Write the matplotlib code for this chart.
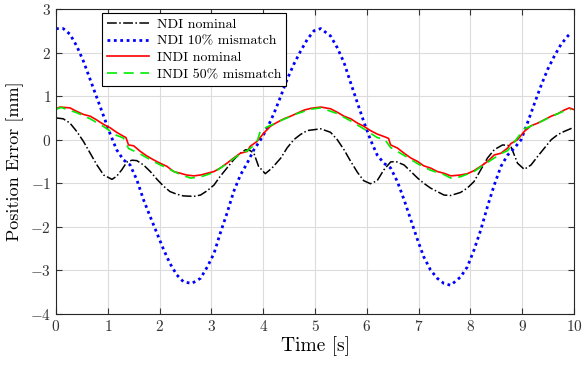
import matplotlib
matplotlib.use("Agg")
import matplotlib.pyplot as plt

t_ndi = [0, 0.14, 0.27, 0.4, 0.53, 0.66, 0.79, 0.92, 1.08, 1.17, 1.27, 1.37, 1.47, 1.56,
         1.69, 1.82, 1.95, 2.08, 2.2, 2.33, 2.46, 2.66, 2.79, 2.92, 3.05, 3.17, 3.3, 3.43,
         3.56, 3.66, 3.75, 3.82, 3.91, 4.04, 4.17, 4.34, 4.46, 4.59, 4.72, 4.85, 4.98, 5.11,
         5.3, 5.43, 5.56, 5.69, 5.82, 5.94, 6.07, 6.2, 6.33, 6.46, 6.56, 6.72, 6.85, 6.98,
         7.1, 7.23, 7.36, 7.49, 7.62, 7.81, 7.94, 8.07, 8.2, 8.33, 8.46, 8.62, 8.72, 8.78,
         8.91, 9.04, 9.17, 9.3, 9.43, 9.56, 9.69, 9.81, 9.97]
e_ndi = [0.5, 0.48, 0.38, 0.19, -0.04, -0.31, -0.58, -0.81, -0.91, -0.84, -0.69, -0.51,
         -0.47, -0.48, -0.58, -0.73, -0.91, -1.07, -1.19, -1.25, -1.29, -1.3, -1.27, -1.17,
         -1.04, -0.84, -0.65, -0.46, -0.31, -0.23, -0.25, -0.31, -0.61, -0.78, -0.65, -0.42,
         -0.19, 0.0, 0.12, 0.21, 0.23, 0.25, 0.17, 0.0, -0.23, -0.5, -0.75, -0.94, -1.01,
         -0.94, -0.69, -0.51, -0.5, -0.58, -0.73, -0.88, -1.0, -1.11, -1.19, -1.27, -1.28,
         -1.21, -1.11, -0.96, -0.69, -0.42, -0.23, -0.12, -0.13, -0.15, -0.54, -0.68, -0.58,
         -0.38, -0.19, 0.0, 0.12, 0.19, 0.27]

t_ndi10 = [0, 0.14, 0.27, 0.4, 0.53, 0.66, 0.79, 0.92, 1.05, 1.17, 1.3, 1.43, 1.56, 1.69,
           1.82, 1.95, 2.08, 2.2, 2.33, 2.46, 2.62, 2.79, 2.92, 3.05, 3.17, 3.3, 3.43, 3.56,
           3.69, 3.82, 3.95, 4.08, 4.21, 4.34, 4.46, 4.59, 4.72, 4.85, 4.98, 5.11, 5.3, 5.43,
           5.56, 5.69, 5.82, 5.94, 6.07, 6.2, 6.33, 6.46, 6.59, 6.72, 6.85, 6.98, 7.1, 7.23,
           7.36, 7.49, 7.62, 7.81, 7.94, 8.07, 8.2, 8.33, 8.46, 8.59, 8.72, 8.85, 8.98, 9.1,
           9.23, 9.36, 9.49, 9.62, 9.75, 9.88, 9.95]
e_ndi10 = [2.55, 2.55, 2.42, 2.15, 1.8, 1.38, 0.96, 0.54, 0.12, -0.23, -0.46, -0.58, -0.92,
           -1.38, -1.77, -2.15, -2.53, -2.84, -3.1, -3.26, -3.3, -3.18, -2.92, -2.61, -2.15,
           -1.69, -1.19, -0.81, -0.54, -0.23, 0.0, 0.27, 0.61, 1.0, 1.38, 1.73, 2.03, 2.3, 2.5,
           2.55, 2.38, 2.11, 1.77, 1.3, 0.84, 0.42, 0.0, -0.35, -0.54, -0.65, -0.96, -1.38,
           -1.84, -2.3, -2.69, -2.99, -3.18, -3.3, -3.34, -3.15, -2.92, -2.53, -2.07, -1.53,
           -1.04, -0.61, -0.35, -0.19, 0.0, 0.38, 0.81, 1.23, 1.61, 1.92, 2.19, 2.38, 2.46]

t_indi = [0, 0.08, 0.27, 0.4, 0.53, 0.66, 0.79, 0.92, 1.05, 1.17, 1.3, 1.35, 1.4, 1.5, 1.63,
          1.75, 1.88, 2.01, 2.14, 2.27, 2.4, 2.52, 2.66, 2.79, 2.92, 3.05, 3.17, 3.3, 3.43,
          3.56, 3.69, 3.75, 3.88, 4.01, 4.14, 4.27, 4.4, 4.53, 4.66, 4.79, 4.92, 5.11, 5.3,
          5.43, 5.56, 5.69, 5.82, 5.94, 6.07, 6.2, 6.36, 6.42, 6.46, 6.59, 6.72, 6.85, 6.98,
          7.1, 7.23, 7.36, 7.49, 7.62, 7.81, 7.94, 8.07, 8.2, 8.33, 8.46, 8.59, 8.72, 8.78,
          8.91, 9.04, 9.17, 9.3, 9.43, 9.56, 9.69, 9.81, 9.91, 10]
e_indi = [0.71, 0.75, 0.73, 0.65, 0.58, 0.54, 0.45, 0.35, 0.27, 0.17, 0.08, 0.05, -0.12,
          -0.14, -0.27, -0.37, -0.46, -0.54, -0.61, -0.73, -0.77, -0.81, -0.83, -0.81, -0.77,
          -0.73, -0.65, -0.54, -0.42, -0.31, -0.27, -0.15, -0.04, 0.15, 0.31, 0.4, 0.48, 0.54,
          0.61, 0.68, 0.72, 0.75, 0.71, 0.63, 0.54, 0.48, 0.38, 0.31, 0.21, 0.13, 0.06, 0.03,
          -0.12, -0.19, -0.31, -0.42, -0.5, -0.6, -0.65, -0.73, -0.77, -0.83, -0.81, -0.78,
          -0.71, -0.61, -0.5, -0.35, -0.31, -0.19, -0.09, 0.0, 0.19, 0.32, 0.38, 0.46, 0.54,
          0.6, 0.68, 0.73, 0.69]

t_indi50 = [0, 0.1, 0.4, 0.66, 0.92, 1.17, 1.3, 1.4, 1.63, 1.88, 2.14, 2.4, 2.6, 2.8, 3.05,
            3.3, 3.56, 3.7, 3.8, 3.88, 3.95, 4.14, 4.4, 4.66, 4.92, 5.11, 5.43, 5.69, 5.94,
            6.2, 6.35, 6.46, 6.72, 6.98, 7.23, 7.49, 7.62, 7.81, 8.07, 8.33, 8.59, 8.72, 8.85,
            9.04, 9.3, 9.56, 9.81, 9.94]
e_indi50 = [0.7, 0.74, 0.62, 0.48, 0.3, 0.1, 0.04, -0.2, -0.33, -0.5, -0.65, -0.8, -0.88,
            -0.85, -0.75, -0.55, -0.32, -0.25, -0.15, -0.05, 0.22, 0.33, 0.47, 0.6, 0.7, 0.73,
            0.6, 0.43, 0.25, 0.05, 0.0, -0.18, -0.36, -0.55, -0.7, -0.8, -0.88, -0.85, -0.73,
            -0.52, -0.32, -0.25, -0.05, 0.25, 0.38, 0.53, 0.66, 0.7]

x_ticks = list(range(0, 11))
y_ticks = [-4, -3, -2, -1, 0, 1, 2, 3]

plt.rcParams["font.family"] = "cmr10"
plt.rcParams["mathtext.fontset"] = "cm"
plt.rcParams["axes.formatter.use_mathtext"] = True

fig = plt.figure(figsize=(5.84, 3.67), dpi=100)
ax = fig.add_axes([0.0959, 0.1444, 0.8870, 0.8311])

ax.plot(t_ndi, e_ndi, color="black", ls="-.", lw=1.1, label="NDI nominal")
ax.plot(t_ndi10, e_ndi10, color="#0000ff", ls=(0, (1, 1.3)), lw=2.0, label="NDI 10% mismatch")
ax.plot(t_indi, e_indi, color="#ff0000", ls="-", lw=1.2, label="INDI nominal")
ax.plot(t_indi50, e_indi50, color="#00ee00", ls=(0, (6, 4)), lw=1.2, label="INDI 50% mismatch")

ax.set_xlim(0, 10)
ax.set_ylim(-4, 3)
ax.set_xticks(x_ticks)
ax.set_yticks(y_ticks)
ax.grid(True, color="#dcdcdc", lw=0.8)
ax.set_axisbelow(True)
ax.tick_params(direction="in", top=True, right=True, labelsize=11, colors="#333333",
               length=4)
for s in ax.spines.values():
    s.set_color("#262626")
    s.set_linewidth(0.8)

ax.set_xlabel("Time [s]", fontsize=14, labelpad=2)
ax.set_ylabel("Position Error [mm]", fontsize=13, labelpad=4)

leg = ax.legend(loc="upper left", bbox_to_anchor=(0.089, 0.987), fontsize=10,
                handlelength=3.0, fancybox=False, framealpha=1, edgecolor="black",
                borderpad=0.35, labelspacing=0.3, handletextpad=0.6, borderaxespad=0)
leg.get_frame().set_linewidth(0.8)

fig.savefig("out.png", dpi=100)
